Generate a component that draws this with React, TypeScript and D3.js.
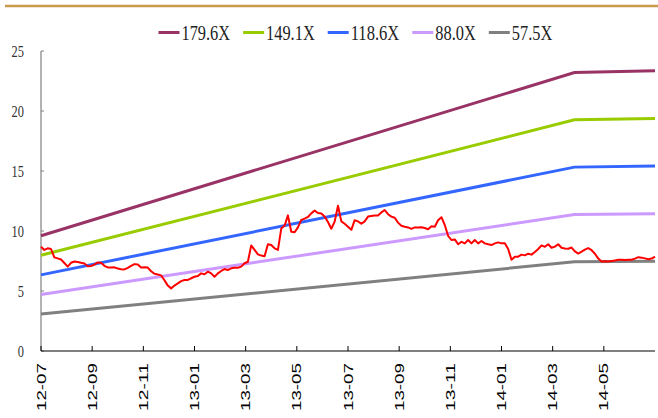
import React, { useEffect, useRef } from "react";
import * as d3 from "d3";

const W = 658;
const H = 418;

// x axis: months since 2012-07, labels every 2 months
const tickMonths = [0, 2, 4, 6, 8, 10, 12, 14, 16, 18, 20, 22];
const tickLabels = ["12-07", "12-09", "12-11", "13-01", "13-03", "13-05", "13-07", "13-09", "13-11", "14-01", "14-03", "14-05"];
const yTicks = [0, 5, 10, 15, 20, 25];

// PE band multiples
const bandNames = ["179.6X", "149.1X", "118.6X", "88.0X", "57.5X"];
const bandMultiples = [179.6, 149.1, 118.6, 88.0, 57.5];
const bandColors = ["#993366", "#99CC00", "#3366FF", "#CC99FF", "#808080"];

// EPS knots (month, eps)
const epsMonths = [0, 20.85, 24];
const epsValues = [0.0535, 0.1292, 0.13];

// price, sampled evenly over the 24 months
const priceValues = [
  8.69, 8.42, 8.56, 8.5, 7.8, 7.72, 7.62, 7.33, 7.03, 7.35,
  7.46, 7.42, 7.35, 7.3, 7.07, 7.08, 7.2, 7.38, 7.35, 7.1,
  6.96, 6.95, 6.97, 6.87, 6.82, 6.8, 6.93, 7.1, 7.24, 7.2,
  6.95, 6.98, 6.95, 6.65, 6.43, 6.37, 6.3, 5.9, 5.45, 5.22,
  5.45, 5.63, 5.82, 5.92, 5.92, 6.06, 6.19, 6.25, 6.47, 6.39,
  6.61, 6.47, 6.19, 6.47, 6.67, 6.83, 6.75, 6.89, 6.94, 6.94,
  7.03, 7.31, 7.44, 8.8, 8.42, 8.05, 7.95, 7.9, 8.9, 8.83,
  8.56, 8.42, 10.2, 10.45, 11.3, 9.94, 9.9, 10.3, 10.92, 11.03,
  11.17, 11.47, 11.7, 11.5, 11.45, 11.2, 10.75, 10.19, 10.78, 12.11,
  10.8, 10.6, 10.36, 10.1, 10.9, 10.8, 10.6, 10.8, 11.2, 11.25,
  11.3, 11.3, 11.55, 11.75, 11.4, 11.2, 11.1, 10.7, 10.43, 10.36,
  10.3, 10.18, 10.3, 10.3, 10.32, 10.25, 10.15, 10.4, 10.36, 10.9,
  11.15, 10.5, 9.6, 9.25, 9.3, 8.9, 9.1, 8.97, 9.25, 8.97,
  9.25, 8.97, 9.17, 8.97, 8.89, 8.83, 8.97, 9.05, 8.97, 8.97,
  8.5, 7.6, 7.86, 7.86, 8.03, 7.97, 8.11, 8.03, 8.25, 8.5,
  8.8, 8.69, 8.9, 8.6, 8.7, 8.9, 8.6, 8.55, 8.52, 8.62,
  8.3, 8.12, 8.28, 8.45, 8.58, 8.4, 8.1, 7.7, 7.46, 7.48,
  7.45, 7.5, 7.55, 7.6, 7.6, 7.58, 7.6, 7.6, 7.7, 7.82,
  7.78, 7.72, 7.65, 7.7, 7.86,
];

const PEBandChart = () => {
  const svgRef = useRef<SVGSVGElement>(null);

  useEffect(() => {
    const svg = d3.select(svgRef.current);
    svg.selectAll("*").remove();

    const margin = { top: 51, right: 3, bottom: 67, left: 41 };
    const x = d3.scaleLinear().domain([0, 24]).range([margin.left, W - margin.right]);
    const y = d3.scaleLinear().domain([0, 25]).range([H - margin.bottom, margin.top]);

    // top rule
    svg.append("line")
      .attr("x1", 5).attr("x2", W).attr("y1", 6).attr("y2", 6)
      .attr("stroke", "#C99A4E").attr("stroke-width", 2.5);

    // y axis
    svg.append("line")
      .attr("x1", x(0)).attr("x2", x(0))
      .attr("y1", y(25)).attr("y2", y(0))
      .attr("stroke", "#808080").attr("stroke-width", 1.2);
    yTicks.forEach((t) => {
      svg.append("line")
        .attr("x1", x(0)).attr("x2", x(0) + 3)
        .attr("y1", y(t)).attr("y2", y(t))
        .attr("stroke", "#808080");
      const s = String(t);
      svg.append("text")
        .attr("x", 24).attr("y", y(t))
        .attr("text-anchor", "end")
        .attr("dominant-baseline", "central")
        .attr("textLength", s.length * 6.2)
        .attr("lengthAdjust", "spacingAndGlyphs")
        .style("font-family", "'Liberation Serif', serif")
        .style("font-size", "17px")
        .style("fill", "#333")
        .text(s);
    });

    // x axis
    svg.append("line")
      .attr("x1", x(0)).attr("x2", x(24))
      .attr("y1", y(0)).attr("y2", y(0))
      .attr("stroke", "#000").attr("stroke-width", 1.2);
    tickMonths.forEach((m, i) => {
      svg.append("line")
        .attr("x1", x(m)).attr("x2", x(m))
        .attr("y1", y(0)).attr("y2", y(0) - 5)
        .attr("stroke", "#000");
      svg.append("text")
        .attr("transform", `translate(${x(m)},${y(0) + 12}) rotate(-90)`)
        .attr("text-anchor", "end")
        .attr("dy", "0.35em")
        .attr("textLength", 48)
        .attr("lengthAdjust", "spacingAndGlyphs")
        .style("font-family", "'Liberation Sans', Arial, sans-serif")
        .style("font-size", "13px")
        .style("fill", "#000")
        .text(tickLabels[i]);
    });

    // bands
    const line = d3.line<[number, number]>()
      .x((d) => x(d[0]))
      .y((d) => y(d[1]));

    bandMultiples.forEach((mult, i) => {
      const pts: [number, number][] = epsMonths.map((m, j) => [m, epsValues[j] * mult]);
      svg.append("path")
        .datum(pts)
        .attr("fill", "none")
        .attr("stroke", bandColors[i])
        .attr("stroke-width", 3)
        .attr("d", line);
    });

    // price
    const step = 24 / (priceValues.length - 1);
    svg.append("path")
      .datum(priceValues.map((v, i) => [i * step, v] as [number, number]))
      .attr("fill", "none")
      .attr("stroke", "#FF0000")
      .attr("stroke-width", 2)
      .attr("stroke-linejoin", "round")
      .attr("d", line);

    // legend
    let lx = 158.5;
    const ly = 32.5;
    bandNames.forEach((name, i) => {
      svg.append("line")
        .attr("x1", lx).attr("x2", lx + 21)
        .attr("y1", ly).attr("y2", ly)
        .attr("stroke", bandColors[i]).attr("stroke-width", 3);
      const tw = name.length * 8.1;
      svg.append("text")
        .attr("x", lx + 23).attr("y", ly)
        .attr("dominant-baseline", "central")
        .attr("textLength", tw)
        .attr("lengthAdjust", "spacingAndGlyphs")
        .style("font-family", "'Liberation Serif', serif")
        .style("font-size", "20px")
        .style("fill", "#222")
        .text(name);
      lx += 23 + tw + 13;
    });
  }, []);

  return (
    <svg
      ref={svgRef}
      width={W}
      height={H}
      style={{ position: "absolute", left: 0, top: 0, background: "#fff" }}
    />
  );
};

export default function App() {
  return <PEBandChart />;
}
